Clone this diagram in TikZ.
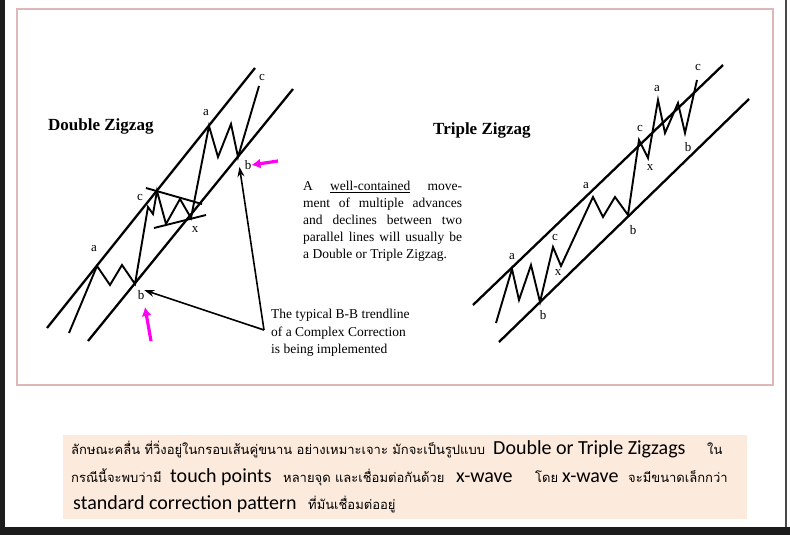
\documentclass[tikz,border=0pt]{standalone}
\usepackage{fontspec}
\setmainfont{Liberation Serif}
\newfontfamily\thaifont[Script=Thai]{Loma}
\newfontfamily\calibrifont{Carlito}
\usetikzlibrary{arrows.meta}
\definecolor{framepink}{RGB}{222, 184, 184}
\definecolor{notebeige}{RGB}{252, 234, 220}
\definecolor{screendark}{RGB}{28, 28, 28}
\definecolor{pointermagenta}{RGB}{255, 0, 240}
\definecolor{pointerviolet}{RGB}{150, 60, 255}
\tikzset{
    channel/.style={line width=2.3pt},
    wave/.style={line width=1.9pt, line join=miter},
    wavelabel/.style={font=\fontsize{13}{13}\selectfont, inner sep=0pt},
    charttitle/.style={font=\fontsize{17}{17}\selectfont\bfseries,
        inner sep=0pt, anchor=base west},
    pointer/.style={line width=1.6pt, -{Stealth[length=10pt, width=7pt]}},
    highlight/.style={pointermagenta, line width=3.2pt,
        -{Latex[length=9pt, width=10pt, fill=pointerviolet]}},
    thaitext/.style={font=\thaifont\fontsize{13}{13}\selectfont,
        anchor=base west, inner sep=0pt},
    latintext/.style={font=\calibrifont\fontsize{20}{20}\selectfont,
        anchor=base west, inner sep=0pt},
}

\begin{document}
\begin{tikzpicture}[x=1pt, y=-1pt]
    \useasboundingbox (0, 0) rectangle (790, 535);
    \fill[white] (0, 0) rectangle (790, 535);
    \fill[screendark] (0, 0) rectangle (5, 527);
    \fill[screendark] (0, 527) rectangle (790, 535);
    \draw[screendark!80, line width=2pt] (786, 0) -- (786, 527);
    \draw[framepink, line width=1.2pt] (17, 9) rectangle (773, 385);
    \fill[notebeige] (63, 435) rectangle (747, 519);

    % Double Zigzag
    \node[charttitle] (dzTitle) at (48, 130) {Double Zigzag};
    \coordinate (dzUpperS) at (47, 328);
    \coordinate (dzUpperE) at (255, 68);
    \coordinate (dzLowerS) at (88, 341);
    \coordinate (dzLowerE) at (293, 89);
    \draw[channel] (dzUpperS) -- (dzUpperE);
    \draw[channel] (dzLowerS) -- (dzLowerE);
    \coordinate (dzStart) at (69, 333);
    \coordinate (dzA1) at (97, 266);
    \coordinate (dzB1) at (135, 284);
    \coordinate (dzC1) at (157, 191);
    \coordinate (dzX) at (191, 218);
    \coordinate (dzA2) at (209, 126);
    \coordinate (dzB2) at (238, 157);
    \coordinate (dzC2) at (259, 86);
    \draw[wave] (dzStart) -- (dzA1) -- (110, 285) -- (122, 265) -- (dzB1)
        -- (148, 207) -- (153, 214) -- (dzC1) -- (166, 224) -- (180, 199)
        -- (dzX) -- (dzA2) -- (218, 157) -- (231, 124) -- (dzB2) -- (dzC2);
    \draw[wave] (146, 188) -- (202, 204);
    \draw[wave] (154, 228) -- (206, 215);
    \node[wavelabel] (dzLabelA1) at (94, 249) {a};
    \node[wavelabel] (dzLabelB1) at (141, 295) {b};
    \node[wavelabel] (dzLabelC1) at (140, 197) {c};
    \node[wavelabel] (dzLabelX) at (195, 230) {x};
    \node[wavelabel] (dzLabelA2) at (206, 113) {a};
    \node[wavelabel] (dzLabelB2) at (248, 165) {b};
    \node[wavelabel] (dzLabelC2) at (262, 78) {c};

    % the two B-B pointers
    \coordinate (bbCorner) at (264, 330);
    \coordinate (markTail) at (151, 341);
    \coordinate (markTip) at (145, 307);
    \draw[pointer, shorten >=10pt] (bbCorner) -- (dzB2);
    \draw[pointer] (bbCorner) -- (dzLabelB1.north east);
    \draw[highlight] (278, 161) -- (dzLabelB2.east);
    \draw[highlight] (markTail) -- (markTip);

    \node[anchor=north west, inner sep=0pt, align=left,
        font=\fontsize{13.5}{17}\selectfont] (wellText) at (303, 181)
        {\makebox[159pt][s]{A \underline{well-contained} move-}\\
        \makebox[159pt][s]{ment of multiple advances}\\
        \makebox[159pt][s]{and declines between two}\\
        \makebox[159pt][s]{parallel lines will usually be}\\
        a Double or Triple Zigzag.};
    \node[anchor=north west, inner sep=0pt, align=left,
        font=\fontsize{13.5}{17.5}\selectfont] (bbText) at (271, 309)
        {The typical B-B trendline\\
        of a Complex Correction\\
        is being implemented};

    % Triple Zigzag
    \node[charttitle] (tzTitle) at (433, 134) {Triple Zigzag};
    \coordinate (tzUpperS) at (473, 305);
    \coordinate (tzUpperE) at (723, 65);
    \coordinate (tzLowerS) at (499, 342);
    \coordinate (tzLowerE) at (749, 99);
    \draw[channel] (tzUpperS) -- (tzUpperE);
    \draw[channel] (tzLowerS) -- (tzLowerE);
    \coordinate (tzStart) at (496, 323);
    \coordinate (tzA1) at (512, 269);
    \coordinate (tzB1) at (540, 302);
    \coordinate (tzC1) at (553, 247);
    \coordinate (tzX1) at (561, 266);
    \coordinate (tzA2) at (593, 197);
    \coordinate (tzB2) at (628, 215);
    \coordinate (tzC2) at (639, 140);
    \coordinate (tzX2) at (648, 158);
    \coordinate (tzA3) at (658, 100);
    \coordinate (tzB3) at (685, 133);
    \coordinate (tzC3) at (697, 80);
    \draw[wave] (tzStart) -- (tzA1) -- (519, 300) -- (531, 265) -- (tzB1)
        -- (tzC1) -- (tzX1) -- (tzA2) -- (603, 217) -- (615, 197) -- (tzB2)
        -- (tzC2) -- (tzX2) -- (tzA3) -- (665, 133) -- (678, 103) -- (tzB3)
        -- (tzC3);
    \node[wavelabel] (tzLabelA1) at (512, 257) {a};
    \node[wavelabel] (tzLabelB1) at (543, 315) {b};
    \node[wavelabel] (tzLabelC1) at (555, 237) {c};
    \node[wavelabel] (tzLabelX1) at (558, 273) {x};
    \node[wavelabel] (tzLabelA2) at (586, 186) {a};
    \node[wavelabel] (tzLabelB2) at (633, 230) {b};
    \node[wavelabel] (tzLabelC2) at (640, 128) {c};
    \node[wavelabel] (tzLabelX2) at (650, 168) {x};
    \node[wavelabel] (tzLabelA3) at (657, 89) {a};
    \node[wavelabel] (tzLabelB3) at (688, 147) {b};
    \node[wavelabel] (tzLabelC3) at (698, 68) {c};

    % Thai note
    \node[thaitext] (noteThaiA) at (71, 454)
        {ลักษณะคลื่น ที่วิ่งอยู่ในกรอบเส้นคู่ขนาน อย่างเหมาะเจาะ มักจะเป็นรูปแบบ};
    \node[latintext] (noteLatinA) at (493, 454) {Double or Triple Zigzags};
    \node[thaitext] (noteThaiB) at (707, 454) {ใน};
    \node[thaitext] (noteThaiC) at (71, 482) {กรณีนี้จะพบว่ามี};
    \node[latintext] (noteLatinB) at (170, 482) {touch points};
    \node[thaitext] (noteThaiD) at (283, 482) {หลายจุด และเชื่อมต่อกันด้วย};
    \node[latintext] (noteLatinC) at (456, 482) {x-wave};
    \node[thaitext] (noteThaiE) at (535, 482) {โดย};
    \node[latintext] (noteLatinD) at (562, 482) {x-wave};
    \node[thaitext] (noteThaiF) at (628, 482) {จะมีขนาดเล็กกว่า};
    \node[latintext] (noteLatinE) at (73, 509) {standard correction pattern};
    \node[thaitext] (noteThaiG) at (308, 509) {ที่มันเชื่อมต่ออยู่};
\end{tikzpicture}
\end{document}
